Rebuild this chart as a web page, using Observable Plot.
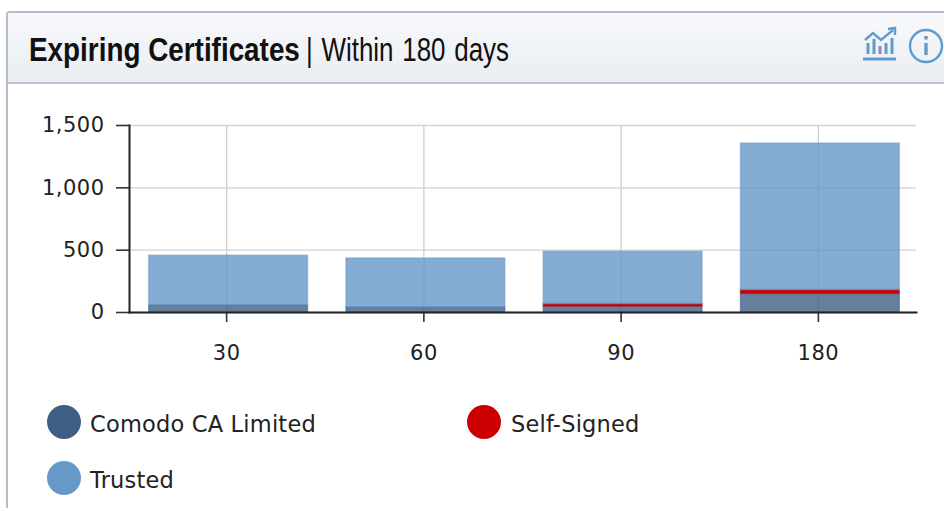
<!DOCTYPE html>
<html>
<head>
<meta charset="utf-8">
<script src="https://cdn.jsdelivr.net/npm/d3@7"></script>
<script src="https://cdn.jsdelivr.net/npm/@observablehq/plot@0.6"></script>
<style>
html,body{margin:0;padding:0;background:#fff;width:944px;height:508px;overflow:hidden}
#panel{position:absolute;left:6px;top:11px;width:950px;height:520px;border:1px solid #b4bccb;border-radius:4px 0 0 0;box-sizing:border-box;border-width:2px 0 0 2px}
#head{position:absolute;left:8px;top:13px;width:936px;height:71px;background:linear-gradient(#f8f9fb,#e9edf2);border-bottom:2px solid #bcc3d0;box-sizing:border-box}
.t{position:absolute;top:31px;font-family:"Liberation Sans",sans-serif;font-size:33px;line-height:38px;color:#111;white-space:nowrap;transform-origin:0 50%}
#t1{left:29px;font-weight:700;transform:scaleX(.844)}
#t2{left:306px;word-spacing:2px;transform:scaleX(.785)}
#chart{position:absolute;left:0;top:84px}
.lg{position:absolute;font-family:"DejaVu Sans",sans-serif;font-size:22.5px;letter-spacing:.2px;line-height:28px;color:#222;white-space:nowrap}
.dot{position:absolute;width:34px;height:34px;border-radius:50%}
svg.ic{position:absolute;left:860px;top:26px}
</style>
</head>
<body>
<div id="panel"></div>
<div id="head"></div>
<div class="t" id="t1">Expiring Certificates</div>
<div class="t" id="t2">| Within 180 days</div>
<svg class="ic" width="84" height="40" viewBox="0 0 84 40">
  <g fill="none" stroke="#5f9bcc" stroke-width="2.4">
    <path d="M5 14 L13 7 L21 14 L33 4"/>
    <path d="M28 3 L35 2 L35 9"/>
    <path d="M3 33 H36" stroke-width="3"/>
    <path d="M8 28 V17 M14 28 V13 M26 28 V17 M32 28 V12" stroke-width="3"/>
    <path d="M20 28 V20" stroke="#8f86c2" stroke-width="3"/>
    <circle cx="66" cy="20" r="16"/>
    <path d="M66 17 V29" stroke-width="3.4"/>
    <path d="M66 10 V13.5" stroke-width="3.4"/>
  </g>
</svg>
<div id="chart"></div>
<div class="dot" style="left:47px;top:405px;background:#3f5f84"></div>
<div class="lg" style="left:90px;top:410px">Comodo CA Limited</div>
<div class="dot" style="left:467px;top:405px;background:#cc0000"></div>
<div class="lg" style="left:511px;top:410px">Self-Signed</div>
<div class="dot" style="left:47px;top:461px;background:#6698c8"></div>
<div class="lg" style="left:90px;top:466px">Trusted</div>
<script>
const days = ["30", "60", "90", "180"];
const seriesNames = ["Comodo CA Limited", "Self-Signed", "Trusted"];
const comodo = [58, 42, 48, 150];
const selfSigned = [0, 0, 20, 30];
const trusted = [397, 391, 419, 1175];
const colors = ["#3f5f84", "#cc0000", "#6698c8"];
const yTicks = [0, 500, 1000, 1500];

const rows = [comodo, selfSigned, trusted].flatMap((vals, s) =>
  vals.map((v, i) => ({day: days[i], series: seriesNames[s], value: v, order: s}))
).filter(d => d.value > 0);

const chart = Plot.plot({
  width: 944,
  height: 300,
  marginLeft: 129,
  marginRight: 28,
  marginTop: 41,
  marginBottom: 72,
  style: {fontFamily: "DejaVu Sans, sans-serif", fontSize: "21px", letterSpacing: "0.5px", color: "#222", background: "transparent", overflow: "visible"},
  x: {domain: days, range: [127.5, 916.5], round: false, paddingInner: 0.195, paddingOuter: 0.0975, align: 0.5, label: null, tickSize: 0},
  y: {domain: [0, 1500], label: null, tickSize: 0},
  color: {domain: seriesNames, range: colors},
  marks: [
    Plot.gridY(yTicks, {stroke: "#d2d2d2", strokeOpacity: 1, strokeWidth: 1.3}),
    Plot.gridX(days, {x: d => d, stroke: "#cfcfcf", strokeOpacity: 1, strokeWidth: 1.3}),
    Plot.barY(rows, Plot.stackY({order: "order"}, {
      x: "day", y: "value", dx: 2, fill: "series", fillOpacity: d => d.series === "Self-Signed" ? 1 : 0.8,
      stroke: "series", strokeOpacity: 0.55, strokeWidth: 1.5
    })),
    Plot.axisY(yTicks, {anchor: "left", tickFormat: d3.format(","), tickSize: 13, tickPadding: 12, stroke: "#333", strokeWidth: 1.6, fontSize: 21, fill: "#222", label: null}),
    Plot.axisX(days, {anchor: "bottom", tickSize: 10, tickPadding: 23, stroke: "#333", strokeWidth: 1.6, fontSize: 21, fill: "#222", label: null}),
    Plot.frame({anchor: "left", stroke: "#222", strokeWidth: 2}),
    Plot.frame({anchor: "bottom", stroke: "#222", strokeWidth: 2})
  ]
});
document.getElementById("chart").appendChild(chart);
</script>
</body>
</html>
